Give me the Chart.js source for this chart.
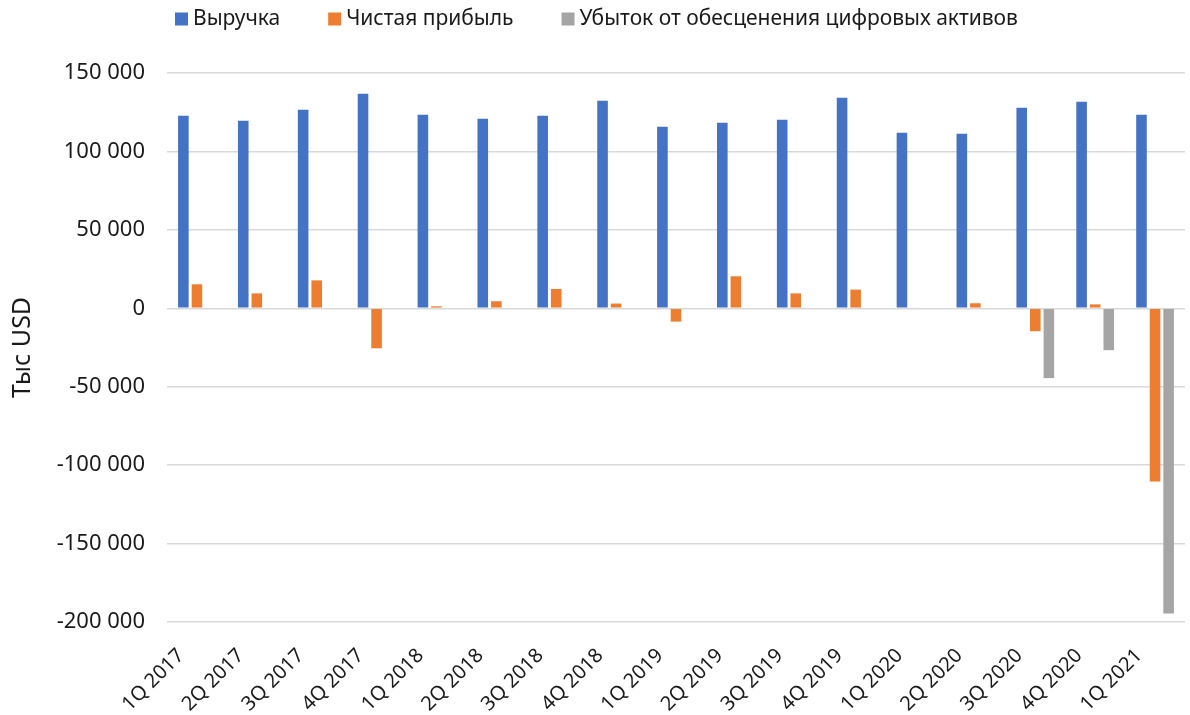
<!DOCTYPE html>
<html>
<head>
<meta charset="utf-8">
<script src="https://cdn.jsdelivr.net/npm/chart.js@4.4.1/dist/chart.umd.min.js"></script>
<style>
html,body{margin:0;padding:0;background:#fff;}
#wrap{width:1190px;height:715px;position:relative;}
</style>
</head>
<body>
<div id="wrap"><canvas id="c" width="1190" height="715"></canvas></div>
<script>
const categories = ["1Q 2017","2Q 2017","3Q 2017","4Q 2017","1Q 2018","2Q 2018","3Q 2018","4Q 2018","1Q 2019","2Q 2019","3Q 2019","4Q 2019","1Q 2020","2Q 2020","3Q 2020","4Q 2020","1Q 2021"];
const revenue = [122700,119600,126600,136700,123400,120800,122700,132300,115700,118300,120200,134200,111900,111300,127800,131600,123400];
const netIncome = [15300,9500,17800,-25500,1300,4500,12300,3000,-8500,20400,9500,11900,500,3200,-14600,2500,-110500];
const impairment = [0,0,0,0,0,0,0,0,0,0,0,0,0,0,-44500,-26700,-194600];
const seriesNames = ["Выручка","Чистая прибыль","Убыток от обесценения цифровых активов"];
const seriesColors = ['#4472C4','#ED7D31','#A5A5A5'];
const yTicks = [150000,100000,50000,0,-50000,-100000,-150000,-200000];
const yTitle = "Тыс USD";

function fmt(v){
  const s = Math.abs(v).toString().replace(/\B(?=(\d{3})+(?!\d))/g, " ");
  return (v<0?"-":"") + s;
}
const FONT = "'Noto Sans', 'Open Sans', sans-serif";

const topLegend = {
  id: 'topLegend',
  afterDraw(chart) {
    const ctx = chart.ctx;
    ctx.save();
    ctx.font = "21px " + FONT;
    ctx.textBaseline = 'middle';
    ctx.textAlign = 'left';
    let x = 175;
    const cy = 19;
    chart.data.datasets.forEach((ds) => {
      ctx.fillStyle = ds.backgroundColor;
      ctx.fillRect(x, cy - 6.5, 13, 13);
      x += 13 + 5;
      ctx.fillStyle = '#1a1a1a';
      ctx.fillText(ds.label, x, cy);
      x += ctx.measureText(ds.label).width + 48;
    });
    ctx.restore();
  }
};

new Chart(document.getElementById('c'), {
  type: 'bar',
  data: {
    labels: categories,
    datasets: seriesNames.map((n, i) => ({label: n, data: [revenue, netIncome, impairment][i], backgroundColor: seriesColors[i]}))
  },
  options: {
    responsive: false,
    animation: false,
    layout: {padding: {left: 8, right: 5, top: 73, bottom: 0}},
    datasets: {bar: {categoryPercentage: 0.68, barPercentage: 0.78}},
    plugins: {
      legend: {display: false},
      tooltip: {enabled: false}
    },
    scales: {
      x: {
        grid: {display: false},
        border: {display: false},
        afterFit: (axis) => { axis.height = 93; },
        ticks: {color: '#1a1a1a', font: {family: FONT, size: 20}, maxRotation: 45, minRotation: 45, padding: 14, labelOffset: -16}
      },
      y: {
        min: -200000, max: 150000,
        afterBuildTicks: (axis) => { axis.ticks = yTicks.map(v => ({value: v})); },
        afterFit: (axis) => { axis.width = 159; },
        grid: {color: '#D9D9D9', lineWidth: 1.5, drawTicks: false},
        border: {display: false},
        ticks: {color: '#1a1a1a', font: {family: FONT, size: 22}, padding: 22, callback: (v) => fmt(v)},
        title: {display: true, text: yTitle, color: '#1a1a1a', font: {family: FONT, size: 25}, padding: {bottom: 0, top: 0}}
      }
    }
  },
  plugins: [topLegend]
});
</script>
</body>
</html>
